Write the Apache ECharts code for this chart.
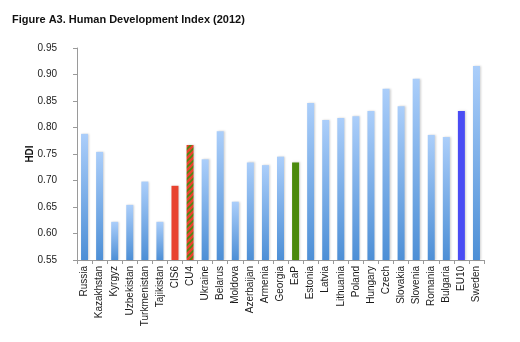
<!DOCTYPE html>
<html>
<head>
<meta charset="utf-8">
<script src="https://cdn.jsdelivr.net/npm/echarts@6/dist/echarts.min.js"></script>
<style>
  html, body { margin: 0; padding: 0; background: #fff; }
  #chart { width: 520px; height: 342px; }
</style>
</head>
<body>
<div id="chart"></div>
<script>
// Human Development Index, 2012
const countries = ['Russia', 'Kazakhstan', 'Kyrgyz', 'Uzbekistan', 'Turkmenistan', 'Tajikistan',
  'CIS6', 'CU4', 'Ukraine', 'Belarus', 'Moldova', 'Azerbaijan', 'Armenia', 'Georgia', 'EaP',
  'Estonia', 'Latvia', 'Lithuania', 'Poland', 'Hungary', 'Czech', 'Slovakia', 'Slovenia',
  'Romania', 'Bulgaria', 'EU10', 'Sweden'];
const hdiValues = [0.788, 0.754, 0.622, 0.654, 0.698, 0.622,
  0.690, 0.767, 0.740, 0.793, 0.660, 0.734, 0.729, 0.745, 0.734,
  0.846, 0.814, 0.818, 0.821, 0.831, 0.873, 0.840, 0.892,
  0.786, 0.782, 0.831, 0.916];
const yTicks = ['0.55', '0.60', '0.65', '0.70', '0.75', '0.80', '0.85', '0.90', '0.95'];

// hatched fill for the CU4 aggregate
function hatchPattern() {
  const c = document.createElement('canvas');
  c.width = 6; c.height = 6;
  const g = c.getContext('2d');
  g.fillStyle = '#e8432f';
  g.fillRect(0, 0, 6, 6);
  g.strokeStyle = '#4b8a12';
  g.lineWidth = 1.6;
  g.beginPath();
  g.moveTo(0, 6); g.lineTo(6, 0);
  g.moveTo(-3, 3); g.lineTo(3, -3);
  g.moveTo(3, 9); g.lineTo(9, 3);
  g.stroke();
  return c;
}

const blueFill = new echarts.graphic.LinearGradient(0, 0, 0, 1, [
  { offset: 0, color: '#abcefa' },
  { offset: 1, color: '#4d8fd6' }
]);
const specialFill = {
  'CIS6': '#e8432f',
  'CU4': { image: hatchPattern(), repeat: 'repeat' },
  'EaP': '#4b8a0c',
  'EU10': '#4a4cf4'
};

const chart = echarts.init(document.getElementById('chart'), null, { renderer: 'canvas' });
chart.setOption({
  animation: false,
  title: {
    text: 'Figure A3. Human Development Index (2012)',
    left: 7, top: 9,
    textStyle: { fontFamily: 'Liberation Sans', fontSize: 11, fontWeight: 'bold', color: '#111' }
  },
  grid: { left: 77, right: 36, top: 48, bottom: 82 },
  xAxis: {
    type: 'category',
    data: countries,
    axisLine: { lineStyle: { color: '#9a9a9a' } },
    axisTick: { show: true, alignWithLabel: false, length: 4, lineStyle: { color: '#9a9a9a' } },
    axisLabel: {
      interval: 0, rotate: 90, margin: 6,
      fontFamily: 'Liberation Sans', fontSize: 10, color: '#1a1a1a'
    }
  },
  yAxis: {
    type: 'value',
    min: 0.55, max: 0.95, interval: 0.05,
    name: 'HDI',
    nameLocation: 'middle',
    nameGap: 42,
    nameMoveOverlap: false,
    nameRotate: 90,
    nameTextStyle: { fontFamily: 'Liberation Sans', fontSize: 10, fontWeight: 'bold', color: '#111' },
    axisLine: { show: true, lineStyle: { color: '#9a9a9a' } },
    axisTick: { show: true, length: 4, lineStyle: { color: '#9a9a9a' } },
    splitLine: { show: false },
    axisLabel: {
      margin: 20,
      fontFamily: 'Liberation Sans', fontSize: 10, color: '#1a1a1a',
      formatter: v => yTicks.find(t => Math.abs(parseFloat(t) - v) < 1e-6) || ''
    }
  },
  series: [{
    type: 'bar',
    barWidth: 7,
    data: countries.map((name, i) => ({
      value: hdiValues[i],
      itemStyle: { color: specialFill[name] || blueFill }
    })),
    itemStyle: {
      shadowColor: 'rgba(0,0,0,0.18)',
      shadowBlur: 2,
      shadowOffsetX: 1
    }
  }]
});
</script>
</body>
</html>
